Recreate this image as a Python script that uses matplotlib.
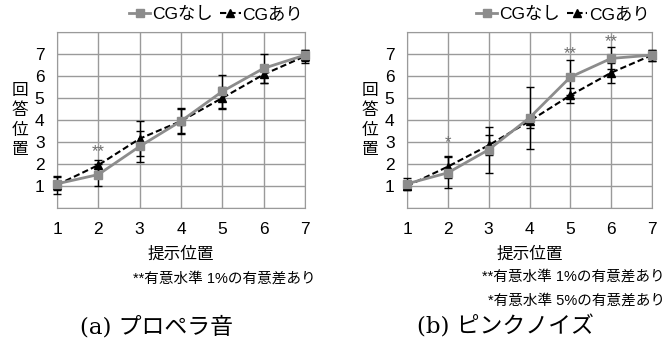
import matplotlib
matplotlib.use("Agg")
import matplotlib.pyplot as plt

plt.rcParams['font.family'] = ['Liberation Sans', 'Noto Sans CJK JP']

# data
positions = [1, 2, 3, 4, 5, 6, 7]

a_nashi = [1.1, 1.52, 2.8, 3.95, 5.3, 6.35, 6.95]
a_nashi_err = [0.3, 0.5, 0.7, 0.55, 0.75, 0.65, 0.25]
a_ari = [1.05, 1.95, 3.15, 3.95, 5.0, 6.07, 6.9]
a_ari_err = [0.4, 0.25, 0.8, 0.58, 0.5, 0.4, 0.3]
a_marks = [(2, 2.56, '**')]

b_nashi = [1.1, 1.6, 2.65, 4.1, 5.95, 6.8, 6.95]
b_nashi_err = [0.25, 0.7, 1.05, 1.4, 0.8, 0.5, 0.25]
b_ari = [1.0, 1.88, 2.85, 3.95, 5.12, 6.15, 6.95]
b_ari_err = [0.2, 0.5, 0.45, 0.3, 0.33, 0.45, 0.25]
b_marks = [(2, 2.97, '*'), (5, 7.03, '**'), (6, 7.56, '**')]

label_nashi = 'CGなし'
label_ari = 'CGあり'
notes_a = ['**有意水準 1%の有意差あり']
notes_b = ['**有意水準 1%の有意差あり', '*有意水準 5%の有意差あり']
captions = ['(a) プロペラ音', '(b) ピンクノイズ']

GRAY = '#8c8c8c'
GRID = '#9a9a9a'

fig = plt.figure(figsize=(6.66, 3.38), dpi=100)
ax_a = fig.add_axes([57 / 666, 1 - 208 / 338, 248 / 666, 176 / 338])
ax_b = fig.add_axes([407 / 666, 1 - 208 / 338, 245 / 666, 176 / 338])


def draw(ax, nashi, nashi_err, ari, ari_err, marks):
    ax.errorbar(positions, nashi, yerr=nashi_err, fmt='none', ecolor='black',
                elinewidth=1, capsize=3, capthick=1, zorder=3, clip_on=False)
    ax.errorbar(positions, ari, yerr=ari_err, fmt='none', ecolor='black',
                elinewidth=1, capsize=3, capthick=1, zorder=3, clip_on=False)
    ax.plot(positions, ari, color='black', ls=(0, (3, 1.5)), lw=1.5,
            marker='^', ms=5.5, label=label_ari, zorder=4, clip_on=False)
    ax.plot(positions, nashi, color=GRAY, lw=2, marker='s', ms=5.5,
            label=label_nashi, zorder=5, clip_on=False)
    for x, y, s in marks:
        ax.text(x, y, s, color='#707070', ha='center', va='center', fontsize=12)

    ax.set_xlim(1, 7)
    ax.set_ylim(0, 8)
    ax.set_xticks(positions)
    ax.set_yticks(range(0, 9))
    ax.set_yticklabels([''] + [str(i) for i in range(1, 8)] + [''])
    ax.tick_params(length=0, labelsize=12.5)
    ax.tick_params(axis='x', pad=10)
    ax.tick_params(axis='y', pad=9)
    ax.grid(True, color=GRID, lw=1)
    for sp in ax.spines.values():
        sp.set_color(GRID)
    ax.set_xlabel('提示位置', fontsize=12, labelpad=7)

    # vertical stacked y label
    ax.text(-0.15, 0.5, '回\n答\n位\n置', transform=ax.transAxes,
            ha='center', va='center', fontsize=12, linespacing=1.35)

    h, l = ax.get_legend_handles_labels()
    ax.legend(h[::-1], l[::-1], ncol=2, frameon=False, loc='center right',
              bbox_to_anchor=(1.02, 1.1), fontsize=12.5, handlelength=1.2,
              handletextpad=0.1, columnspacing=0.4, borderaxespad=0)


draw(ax_a, a_nashi, a_nashi_err, a_ari, a_ari_err, a_marks)
draw(ax_b, b_nashi, b_nashi_err, b_ari, b_ari_err, b_marks)

fig.text(316 / 666, 1 - 279 / 338, notes_a[0], ha='right', va='center', fontsize=10.5)
fig.text(665 / 666, 1 - 277 / 338, notes_b[0], ha='right', va='center', fontsize=10.5)
fig.text(665 / 666, 1 - 301 / 338, notes_b[1], ha='right', va='center', fontsize=10.5)

fig.text(157 / 666, 1 - 327 / 338, captions[0], ha='center', va='center',
         fontsize=16.5, family=['DejaVu Serif', 'Noto Sans CJK JP'])
fig.text(505 / 666, 1 - 327 / 338, captions[1], ha='center', va='center',
         fontsize=16.5, family=['DejaVu Serif', 'Noto Sans CJK JP'])

fig.savefig('out.png', dpi=100)
